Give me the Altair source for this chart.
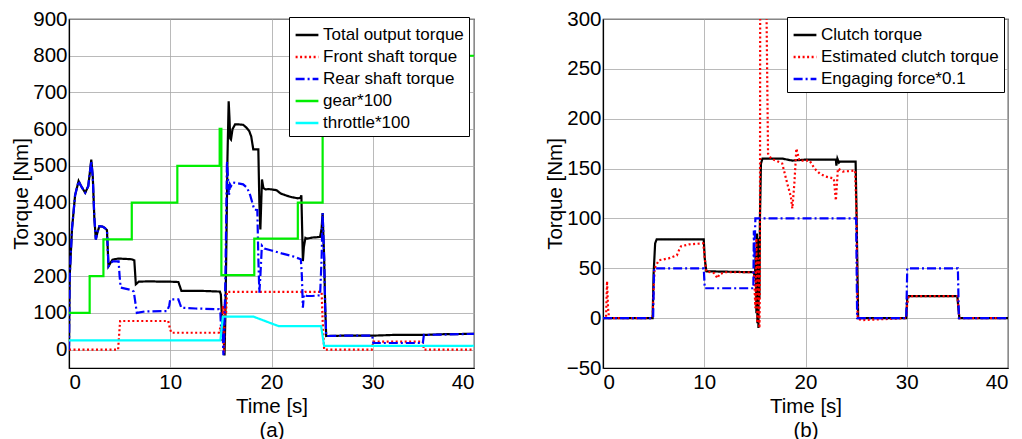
import altair as alt
import pandas as pd

FONT = "Liberation Sans"

# ---------------- Panel (a) ----------------
a_names = ["Total output torque", "Front shaft torque", "Rear shaft torque", "gear*100", "throttle*100"]
a_colors = ["#000000", "#ff0000", "#0000ff", "#00ee00", "#00ffff"]

total_t = [0, 0.07, 0.3, 0.6, 0.95, 1.2, 1.6, 1.9, 2.05, 2.2, 2.35, 2.5, 2.65, 2.8, 3.0, 3.3, 3.55, 3.75, 3.9, 4.3, 4.9, 5.5, 6.2, 6.45, 6.6, 6.9, 8.0, 9.0, 10.0, 10.8, 10.95, 11.1, 12.0, 13.0, 14.0, 14.9, 15.0, 15.1, 15.2, 15.3, 15.36, 15.45, 15.55, 15.65, 15.77, 15.85, 15.92, 16.0, 16.15, 16.4, 16.8, 17.2, 17.5, 17.8, 18.0, 18.2, 18.7, 18.8, 18.9, 19.06, 19.2, 19.4, 19.7, 20.0, 20.5, 20.9, 21.5, 22.0, 22.6, 22.85, 22.95, 23.1, 23.2, 23.35, 23.5, 24.0, 24.5, 24.8, 24.95, 25.05, 25.2, 25.3, 25.4, 27.0, 30.0, 32.0, 35.0, 37.0, 40.0]
total_v = [10, 200, 330, 420, 459, 445, 427, 445, 480, 517, 470, 360, 300, 318, 336, 335, 331, 325, 227, 245, 248, 247, 246, 243, 178, 185, 186, 185, 185, 184, 172, 160, 160, 160, 159, 158, 150, 90, 60, 20, -16, 100, 300, 520, 676, 630, 575, 572, 600, 613, 613, 612, 605, 595, 580, 545, 545, 400, 327, 463, 440, 436, 437, 436, 434, 425, 419, 415, 412, 413, 420, 241, 280, 304, 302, 305, 306, 307, 330, 372, 250, 120, 37, 38, 38, 40, 40, 42, 43]

front_t = [0, 4.85, 4.95, 5.05, 9.8, 9.95, 10.1, 14.8, 14.95, 15.1, 15.2, 15.3, 15.4, 15.5, 15.6, 22.9, 23.1, 23.3, 24.95, 25.05, 25.2, 29.9, 30.05, 34.95, 35.05, 40]
front_v = [0, 0, 40, 78, 78, 60, 46, 46, 60, 20, 120, -10, 130, 90, 157, 157, 155, 157, 157, 80, 0, 0, 22, 22, 0, 0]

rear_t = [0, 0.07, 0.3, 0.6, 0.95, 1.2, 1.6, 1.9, 2.05, 2.2, 2.35, 2.5, 2.65, 2.8, 3.0, 3.3, 3.55, 3.75, 3.9, 4.3, 4.9, 5.0, 5.1, 6.2, 6.4, 6.7, 7.5, 9.7, 9.9, 10.0, 10.8, 10.95, 11.1, 12.5, 14.8, 14.95, 15.05, 15.15, 15.25, 15.35, 15.45, 15.6, 15.7, 15.8, 15.9, 16.0, 16.2, 17.2, 17.6, 17.9, 18.3, 18.6, 18.7, 18.8, 18.9, 19.05, 19.3, 20.0, 21.0, 22.0, 22.9, 23.0, 23.1, 23.2, 23.5, 24.0, 24.8, 24.95, 25.05, 25.2, 25.3, 25.4, 27.0, 29.95, 30.05, 34.95, 35.05, 37.0, 40.0]
rear_v = [0, 200, 330, 420, 459, 445, 427, 445, 480, 513, 470, 360, 300, 318, 336, 335, 331, 325, 227, 240, 240, 200, 169, 162, 158, 100, 104, 105, 120, 137, 137, 125, 114, 112, 110, 100, 40, 80, -15, 60, 200, 513, 470, 420, 450, 445, 455, 450, 440, 420, 381, 380, 250, 155, 200, 283, 275, 270, 262, 255, 246, 200, 114, 150, 146, 146, 148, 250, 372, 250, 120, 37, 38, 38, 18, 18, 40, 41, 43]

gear_t = [0, 2.04, 2.04, 3.4, 3.4, 6.2, 6.2, 10.7, 10.7, 14.88, 14.88, 15.05, 15.05, 18.3, 18.3, 22.6, 22.6, 25.05, 25.05, 40]
gear_v = [100, 100, 200, 200, 300, 300, 400, 400, 500, 500, 601, 601, 203, 203, 302, 302, 400, 400, 800, 800]

thr_t = [0, 14.95, 15.2, 18.2, 20.7, 24.9, 25.2, 40]
thr_v = [25, 25, 90, 90, 64, 64, 10, 10]

# ---------------- Panel (b) ----------------
b_names = ["Clutch torque", "Estimated clutch torque", "Engaging force*0.1"]
b_colors = ["#000000", "#ff0000", "#0000ff"]

clutch_t = [0, 4.9, 5.0, 5.15, 5.3, 9.95, 10.05, 10.2, 14.9, 15.0, 15.1, 15.15, 15.2, 15.25, 15.3, 15.35, 15.4, 15.45, 15.5, 15.6, 15.75, 17.0, 17.7, 18.7, 20.0, 23.0, 23.05, 23.15, 23.3, 23.4, 24.95, 25.05, 25.2, 29.95, 30.05, 30.2, 35.0, 35.1, 35.2, 40]
clutch_v = [0, 0, 45, 75, 79, 79, 60, 47, 46, 40, 70, 5, 85, -5, 80, -10, 70, 20, 100, 155, 160, 160, 160, 158, 159, 159, 153, 160, 156, 157, 157, 100, 0, 0, 20, 22, 22, 10, 0, 0]

est_t = [0, 0.3, 0.4, 0.5, 0.6, 4.9, 5.0, 5.1, 5.5, 6.5, 7.3, 7.5, 7.7, 8.5, 9.9, 10.05, 10.2, 11.0, 11.3, 11.5, 12.0, 14.9, 15.05, 15.15, 15.25, 15.35, 15.45, 15.5, 15.55, 16.05, 16.3, 16.6, 17.1, 17.7, 18.2, 18.55, 18.7, 18.9, 19.1, 19.4, 20.4, 20.9, 21.4, 22.0, 22.8, 23.0, 23.2, 23.7, 24.9, 25.05, 25.15, 25.5, 29.95, 30.05, 30.2, 35.0, 35.1, 35.2, 40]
est_v = [0, 0, 37, 10, 0, 0, 30, 50, 58, 60, 63, 68, 72, 74, 75, 60, 47, 45, 40, 44, 46, 46, 10, 80, -5, 60, -10, 40, 600, 400, 165, 160, 158, 155, 135, 122, 110, 135, 170, 158, 158, 150, 145, 142, 140, 118, 150, 147, 148, 100, 0, -2, 0, 15, 22, 22, 10, 0, 0]

eng_t = [0, 4.95, 5.05, 9.95, 10.05, 14.85, 14.9, 14.95, 15.05, 25.0, 25.1, 29.95, 30.05, 35.05, 35.15, 40]
eng_v = [0, 0, 50, 50, 30, 30, 88, 60, 100, 100, 0, 0, 50, 50, 0, 0]

SOLID = [1, 0]
DOT = [2, 2.5]
DASHDOT = [9, 3, 2, 3]


def long_table(series):
    rows = []
    for name, ts, vs in series:
        for i, (t, v) in enumerate(zip(ts, vs)):
            rows.append({"t": t, "v": v, "s": name, "i": i})
    return pd.DataFrame(rows)


def panel(df, names, colors, dashes, ydom, yticks, caption, lx, ly):
    leg = alt.Legend(
        orient="none", legendX=lx, legendY=ly, title=None,
        labelFont=FONT, labelFontSize=17, labelColor="black",
        strokeColor="black", fillColor="white", padding=5,
        symbolType="stroke", symbolSize=520, symbolStrokeWidth=2.5,
        rowPadding=1, labelOffset=3, labelLimit=400,
    )
    return alt.Chart(df).mark_line(clip=True, strokeWidth=2.2).encode(
        x=alt.X("t:Q", scale=alt.Scale(domain=[0, 40], nice=False, zero=False),
                axis=alt.Axis(values=[0, 10, 20, 30, 40], title=["Time [s]", caption],
                              labelPadding=4, titlePadding=4)),
        y=alt.Y("v:Q", scale=alt.Scale(domain=ydom, nice=False, zero=False),
                axis=alt.Axis(values=yticks, title="Torque [Nm]",
                              labelPadding=2, titlePadding=1)),
        color=alt.Color("s:N", scale=alt.Scale(domain=names, range=colors), legend=leg),
        strokeDash=alt.StrokeDash("s:N", scale=alt.Scale(domain=names, range=dashes), legend=leg),
        order=alt.Order("i:Q"),
    ).properties(width=405, height=349)


dfa = long_table([
    (a_names[0], total_t, total_v),
    (a_names[1], front_t, front_v),
    (a_names[2], rear_t, rear_v),
    (a_names[3], gear_t, gear_v),
    (a_names[4], thr_t, thr_v),
])
dfb = long_table([
    (b_names[0], clutch_t, clutch_v),
    (b_names[1], est_t, est_v),
    (b_names[2], eng_t, eng_v),
])

left = panel(dfa, a_names, a_colors, [SOLID, DOT, DASHDOT, SOLID, SOLID],
             [-50, 900], list(range(0, 901, 100)), "(a)", 220, -2)
right = panel(dfb, b_names, b_colors, [SOLID, DOT, DASHDOT],
              [-50, 300], list(range(-50, 301, 50)), "(b)", 184, -2)

chart = alt.hconcat(left, right, spacing=69).resolve_scale(
    color="independent", strokeDash="independent", y="independent", x="independent"
).properties(
    padding={"left": 3, "top": 0, "right": 0, "bottom": 0}
).configure_axis(
    labelFont=FONT, labelFontSize=20.5, labelColor="black",
    titleFont=FONT, titleFontSize=20.5, titleFontWeight="normal", titleColor="black",
    titleLineHeight=24,
    gridColor="#a8a8a8", gridWidth=0.8, gridOpacity=1,
    domainColor="black", domainWidth=1.2, ticks=False,
).configure_view(
    stroke="black", strokeWidth=1.2
)

chart.save("out.html", embed_options={"renderer": "svg", "actions": False})
